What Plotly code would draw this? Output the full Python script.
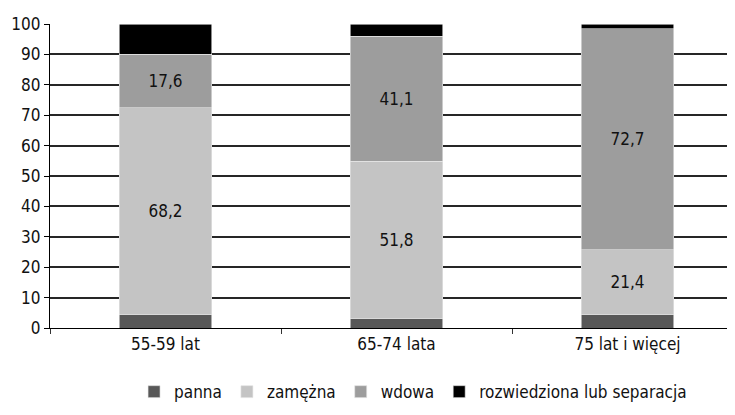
import plotly.graph_objects as go

categories = ["55-59 lat", "65-74 lata", "75 lat i więcej"]
series_names = ["panna", "zamężna", "wdowa", "rozwiedziona lub separacja"]
panna = [4.3, 3.1, 4.3]
zamezna = [68.2, 51.8, 21.4]
wdowa = [17.6, 41.1, 72.7]
rozwiedziona = [9.9, 4.0, 1.6]
colors = ["#585858", "#c4c4c4", "#9d9d9d", "#000000"]
show_labels = [False, True, True, False]

FONT = "DejaVu Sans Condensed, Liberation Sans Narrow, sans-serif"

def fmt(v):
    return f"{v:.1f}".replace(".", ",")

fig = go.Figure()
for name, vals, col, lab in zip(series_names, [panna, zamezna, wdowa, rozwiedziona], colors, show_labels):
    fig.add_trace(go.Bar(
        name=name, x=categories, y=vals,
        marker=dict(color=col, line=dict(color="#e8e8e8", width=0.6)),
        width=0.4,
        text=[fmt(v) for v in vals] if lab else None,
        textposition="inside" if lab else "none",
        insidetextanchor="middle",
        textfont=dict(color="#111111", size=17, family=FONT),
        hoverinfo="skip",
    ))

fig.update_layout(
    barmode="stack",
    width=727, height=407,
    margin=dict(l=42, r=0, t=16, b=87, autoexpand=False),
    plot_bgcolor="white", paper_bgcolor="white",
    font=dict(family=FONT, size=17, color="#111111"),
    showlegend=True,
    legend=dict(orientation="h", x=0.53, xanchor="center",
                y=0.012, yanchor="bottom", yref="container",
                font=dict(size=17, family=FONT), traceorder="normal",
                itemwidth=30, tracegroupgap=0),
    uniformtext=dict(mode="show", minsize=10),
)
fig.update_yaxes(range=[0, 100], tickvals=list(range(0, 101, 10)),
                 showgrid=True, gridcolor="#262626", gridwidth=1.5,
                 showline=True, linecolor="#000000", linewidth=1.2,
                 ticks="outside", ticklen=5, tickcolor="#000000",
                 zeroline=False, tickfont=dict(size=17, family=FONT))
fig.update_xaxes(range=[-0.5, -0.5 + 685 / 231], tickson="boundaries",
                 showline=True, linecolor="#000000", linewidth=1.2,
                 ticks="outside", ticklen=5, tickcolor="#333333",
                 tickfont=dict(size=17, family=FONT))

fig.write_html("out.html")
